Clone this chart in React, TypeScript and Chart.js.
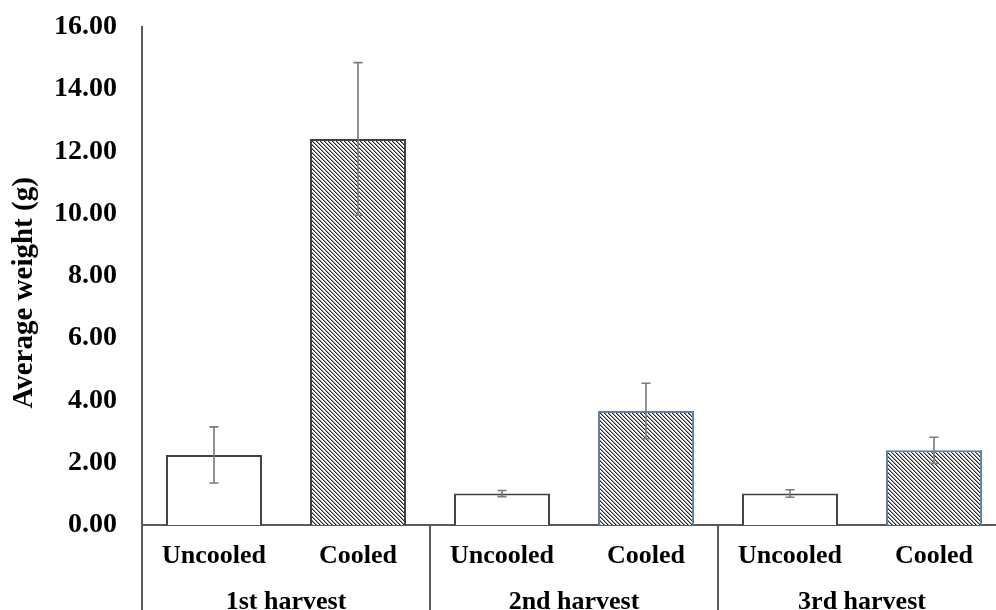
import React, { useEffect, useRef } from "react";
import { Chart, registerables } from "chart.js";

Chart.register(...registerables);

const categories = ["Uncooled", "Cooled", "Uncooled", "Cooled", "Uncooled", "Cooled"];
const groups = ["1st harvest", "2nd harvest", "3rd harvest"];
const means = [2.25, 12.4, 1.01, 3.66, 1.01, 2.4];
const errors = [0.9, 2.45, 0.1, 0.89, 0.12, 0.42];
const yMin = 0;
const yMax = 16;
const yStep = 2;
const yTitle = "Average weight (g)";

const FONT = "'Liberation Serif', 'Times New Roman', serif";
const AXIS = "#5a5a5a";

function makeHatch(): CanvasPattern | string {
  const s = 4;
  const c = document.createElement("canvas");
  c.width = s;
  c.height = s;
  const g = c.getContext("2d");
  if (!g) return "#888";
  const img = g.createImageData(s, s);
  for (let yy = 0; yy < s; yy++) {
    for (let xx = 0; xx < s; xx++) {
      const k = (((xx - yy) % s) + s) % s;
      const v = k === 0 ? 40 : k === 1 ? 150 : 255;
      const i = (yy * s + xx) * 4;
      img.data[i] = v;
      img.data[i + 1] = v;
      img.data[i + 2] = v;
      img.data[i + 3] = 255;
    }
  }
  g.putImageData(img, 0, 0);
  return g.createPattern(c, "repeat") || "#888";
}

const errorBarPlugin = {
  id: "errorBars",
  afterDatasetsDraw(chart: any) {
    const ctx = chart.ctx;
    const y = chart.scales.y;
    const meta = chart.getDatasetMeta(0);
    ctx.save();
    ctx.strokeStyle = "#7a7a7a";
    ctx.lineWidth = 1.6;
    meta.data.forEach((el: any, i: number) => {
      const x = el.x;
      const top = y.getPixelForValue(means[i] + errors[i]);
      const bot = y.getPixelForValue(means[i] - errors[i]);
      ctx.beginPath();
      ctx.moveTo(x, top);
      ctx.lineTo(x, bot);
      ctx.moveTo(x - 4.5, top);
      ctx.lineTo(x + 4.5, top);
      ctx.moveTo(x - 4.5, bot);
      ctx.lineTo(x + 4.5, bot);
      ctx.stroke();
    });
    ctx.restore();
  },
};

const framePlugin = {
  id: "frameLines",
  afterDraw(chart: any) {
    const ctx = chart.ctx;
    const x = chart.scales.x;
    const area = chart.chartArea;
    const h = chart.height;
    ctx.save();
    ctx.strokeStyle = AXIS;
    ctx.lineWidth = 2;
    ctx.beginPath();
    ctx.moveTo(area.left, area.bottom);
    ctx.lineTo(area.left, h);
    const per = categories.length / groups.length;
    for (let g = 1; g < groups.length; g++) {
      const a = x.getPixelForValue(g * per - 1);
      const b = x.getPixelForValue(g * per);
      const px = (a + b) / 2;
      ctx.moveTo(px, area.bottom);
      ctx.lineTo(px, h);
    }
    ctx.stroke();
    // y-axis title
    ctx.fillStyle = "#000";
    ctx.font = `bold 29px ${FONT}`;
    ctx.textAlign = "center";
    ctx.textBaseline = "middle";
    ctx.translate(25, (area.top + area.bottom) / 2 + 17);
    ctx.rotate(-Math.PI / 2);
    ctx.fillText(yTitle, 0, 0);
    ctx.restore();
  },
};

export default function App() {
  const ref = useRef<HTMLCanvasElement>(null);

  useEffect(() => {
    if (!ref.current) return;
    const hatch = makeHatch();
    const fills = categories.map((c) => (c === "Cooled" ? hatch : "#ffffff"));
    const borders = ["#404040", "#404040", "#404040", "#5b7fa8", "#404040", "#5b7fa8"];
    const chart = new Chart(ref.current, {
      type: "bar",
      data: {
        labels: categories,
        datasets: [
          {
            data: means,
            backgroundColor: fills as any,
            borderColor: borders,
            borderWidth: 2,
            categoryPercentage: 1,
            barPercentage: 0.667,
          },
        ],
      },
      options: {
        animation: false,
        responsive: true,
        maintainAspectRatio: false,
        layout: { padding: { top: 12, right: 4, left: 0, bottom: 0 } },
        plugins: { legend: { display: false }, tooltip: { enabled: false } },
        scales: {
          y: {
            min: yMin,
            max: yMax,
            grid: { display: false, drawTicks: false },
            border: { display: true, color: AXIS, width: 2 },
            ticks: {
              stepSize: yStep,
              padding: 25,
              color: "#000",
              font: { family: FONT, size: 28, weight: "bold" },
              callback: (v: any) => Number(v).toFixed(2),
            },
            afterFit: (s: any) => {
              s.width = 142;
            },
          },
          x: {
            grid: { display: false, drawTicks: false },
            border: { display: true, color: AXIS, width: 2 },
            ticks: {
              padding: 16,
              color: "#000",
              maxRotation: 0,
              autoSkip: false,
              font: { family: FONT, size: 26, weight: "bold" },
            },
            afterFit: (s: any) => {
              s.height = 50;
            },
          },
          x2: {
            type: "category",
            position: "bottom",
            labels: groups,
            offset: true,
            weight: 1,
            grid: { display: false, drawTicks: false },
            border: { display: false },
            ticks: {
              padding: 12,
              color: "#000",
              maxRotation: 0,
              autoSkip: false,
              font: { family: FONT, size: 26, weight: "bold" },
            },
            afterFit: (s: any) => {
              s.height = 40;
            },
          },
        },
      },
      plugins: [errorBarPlugin, framePlugin],
    });
    return () => chart.destroy();
  }, []);

  return (
    <div style={{ position: "fixed", left: 0, top: -15, width: 1010, height: 630, background: "#fff" }}>
      <canvas ref={ref} />
    </div>
  );
}
